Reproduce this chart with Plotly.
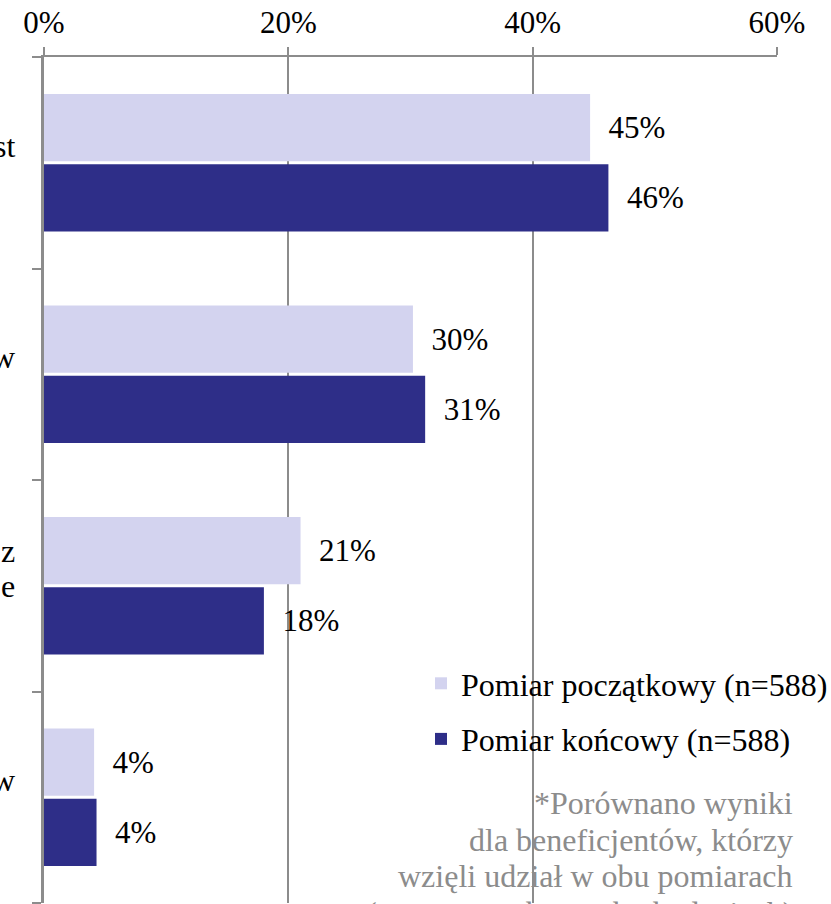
import plotly.graph_objects as go

# ---- data ----
category_labels = ["st", "w", "z\ne", "w"]          # visible parts of the (cropped) category labels
initial_values = [44.7, 30.2, 21.0, 4.1]           # Pomiar początkowy (n=588), %
final_values = [46.2, 31.2, 18.0, 4.3]             # Pomiar końcowy (n=588), %
series_names = ["Pomiar początkowy (n=588)", "Pomiar końcowy (n=588)"]
x_ticks = [0, 20, 40, 60]
footnote_lines = [
    "*Porównano wyniki",
    "dla beneficjentów, którzy",
    "wzięli udział w obu pomiarach",
    "(te same osoby w obu badaniach)",
]

# ---- style ----
W, H = 831, 904
ML, MR, MT, MB = 44, 54, 57, 1
FONT = "Liberation Serif, Times New Roman, serif"
LIGHT = "#D3D3EF"
DARK = "#2E2E88"
AXIS = "#8C8C8C"

positions = list(range(len(category_labels)))

fig = go.Figure()
fig.add_trace(go.Bar(
    x=initial_values, y=positions, orientation="h", name=series_names[0],
    marker=dict(color=LIGHT, line=dict(width=0)),
    texttemplate="\u00a0\u00a0%{x:.0f}%", textposition="outside",
    textfont=dict(family=FONT, size=31, color="black"),
    cliponaxis=False, legendgroup="a",
))
fig.add_trace(go.Bar(
    x=final_values, y=positions, orientation="h", name=series_names[1],
    marker=dict(color=DARK, line=dict(width=0)),
    texttemplate="\u00a0\u00a0%{x:.0f}%", textposition="outside",
    textfont=dict(family=FONT, size=31, color="black"),
    cliponaxis=False, legendgroup="b",
))

annotations = []
plot_h = H - MT - MB
LINE = 35
for i, lab in enumerate(category_labels):
    lines = lab.split("\n")
    n = len(lines)
    for k, ln in enumerate(lines):
        annotations.append(dict(
            x=0, xref="paper", xanchor="right", xshift=-27,
            y=i, yref="y", yanchor="middle",
            yshift=17 + (n - 1) / 2 * LINE - k * LINE,
            text=ln, showarrow=False,
            font=dict(family=FONT, size=32, color="black"),
        ))

plot_w = W - ML - MR
foot_right_px = 795
foot_first_px = 803
FOOT_STEP = 36.5
for k, ln in enumerate(footnote_lines):
    py = foot_first_px + k * FOOT_STEP
    annotations.append(dict(
        x=(foot_right_px - ML) / plot_w, xref="paper", xanchor="right",
        y=(H - MB - py) / plot_h, yref="paper", yanchor="middle",
        text=ln, showarrow=False,
        font=dict(family=FONT, size=32, color="#8C8C8C"),
    ))

fig.update_layout(
    width=W, height=H,
    margin=dict(l=ML, r=MR, t=MT, b=MB, pad=0, autoexpand=False),
    paper_bgcolor="white", plot_bgcolor="white",
    barmode="group", bargap=0.336, bargroupgap=0.04,
    font=dict(family=FONT, size=32, color="black"),
    showlegend=True,
    legend=dict(
        x=(421 - ML) / plot_w, xanchor="left",
        y=(H - MB - 656) / plot_h, yanchor="top",
        font=dict(family=FONT, size=32, color="black"),
        bgcolor="rgba(0,0,0,0)", tracegroupgap=11,
        traceorder="grouped",
    ),
    annotations=annotations,
)
fig.update_xaxes(
    side="top", range=[0, 60], tickvals=x_ticks,
    ticktext=[f"{v}%" for v in x_ticks],
    ticks="outside", ticklen=8, tickwidth=2, tickcolor=AXIS,
    showline=True, linecolor=AXIS, linewidth=2,
    showgrid=True, gridcolor=AXIS, gridwidth=2,
    zeroline=False,
    tickfont=dict(family=FONT, size=31, color="black"),
    ticklabelstandoff=2,
)
fig.update_yaxes(
    range=[len(category_labels) - 0.5, -0.5],
    tickvals=[p - 0.5 for p in positions] + [len(category_labels) - 0.5],
    showticklabels=False,
    ticks="outside", ticklen=9, tickwidth=2, tickcolor=AXIS,
    showline=True, linecolor=AXIS, linewidth=3,
    showgrid=False, zeroline=False,
)

fig.write_html(
    "out.html",
    config={"displayModeBar": False},
    post_script="document.body.style.margin='0';document.body.style.overflow='hidden';",
)
